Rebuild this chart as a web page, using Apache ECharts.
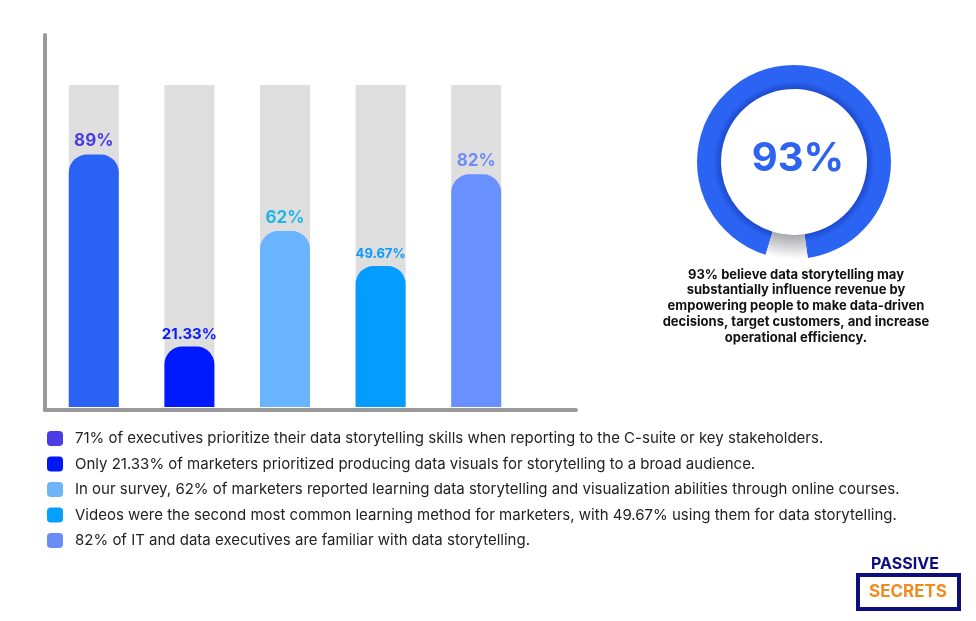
<!DOCTYPE html>
<html>
<head>
<meta charset="utf-8">
<title>Data storytelling</title>
<script src="https://cdn.jsdelivr.net/npm/echarts@6/dist/echarts.min.js"></script>
<style>
  html, body { margin: 0; padding: 0; background: #ffffff; }
  #chart { width: 976px; height: 621px; }
</style>
</head>
<body>
<div id="chart"></div>
<script>
// values
const categories = ['Executives', 'Data visuals', 'Online courses', 'Videos', 'IT executives'];
const values = [89, 21.33, 62, 49.67, 82];
const valueLabels = ['89%', '21.33%', '62%', '49.67%', '82%'];
const legendTexts = [
  '71% of executives prioritize their data storytelling skills when reporting to the C-suite or key stakeholders.',
  'Only 21.33% of marketers prioritized producing data visuals for storytelling to a broad audience.',
  'In our survey, 62% of marketers reported learning data storytelling and visualization abilities through online courses.',
  'Videos were the second most common learning method for marketers, with 49.67% using them for data storytelling.',
  '82% of IT and data executives are familiar with data storytelling.'
];
const donutValues = [93, 7];
const donutLabel = '93%';
const donutCaption = '93% believe data storytelling may\nsubstantially influence revenue by\nempowering people to make data-driven\ndecisions, target customers, and increase\noperational efficiency.';

// colours
const barColors = ['#2962f5', '#0019ff', '#69b4ff', '#039cff', '#6990ff'];
const markerColors = ['#4b3ee6', '#0019f5', '#6fb4f7', '#03a0ff', '#6a8cf7'];
const labelColors = ['#4a3be0', '#0a1cff', '#1fb6e6', '#0a9bff', '#6e8cf5'];
const labelSizes = [17, 15, 17, 13, 17];

const font = 'Inter, "Noto Sans", sans-serif';
const chart = echarts.init(document.getElementById('chart'));

// one series per bar so each gets its own legend row
let barSeries = values.map(function (v, i) {
  return {
    name: legendTexts[i],
    type: 'bar',
    xAxisIndex: 0,
    yAxisIndex: 0,
    barWidth: 50,
    barGap: '-100%',
    showBackground: i === 0,
    backgroundStyle: { color: '#dedede' },
    itemStyle: { color: barColors[i], borderRadius: [18, 18, 0, 0] },
    label: {
      show: true,
      position: 'top',
      distance: 5,
      formatter: valueLabels[i],
      color: labelColors[i],
      fontSize: labelSizes[i],
      fontWeight: 'bold',
      fontFamily: font
    },
    data: values.map(function (x, j) { return j === i ? x : '-'; })
  };
});

let option = {
  animation: false,
  backgroundColor: '#ffffff',
  grid: [
    { left: 46, right: 452, top: 85, bottom: 214 },   // bars
    { left: 45, right: 400, top: 35, bottom: 211 }    // axis lines
  ],
  xAxis: [
    { type: 'category', gridIndex: 0, data: categories, show: false },
    {
      type: 'value', gridIndex: 1, min: 0, max: 1,
      axisLine: { show: true, onZero: false, lineStyle: { color: '#9a9a9a', width: 4 } },
      axisTick: { show: false }, axisLabel: { show: false }, splitLine: { show: false }
    }
  ],
  yAxis: [
    { type: 'value', gridIndex: 0, min: 0, max: 113.5, show: false },
    {
      type: 'value', gridIndex: 1, min: 0, max: 1,
      axisLine: { show: true, onZero: false, lineStyle: { color: '#9a9a9a', width: 4 } },
      axisTick: { show: false }, axisLabel: { show: false }, splitLine: { show: false }
    }
  ],
  legend: {
    orient: 'vertical',
    left: 47,
    top: 431,
    padding: 0,
    itemWidth: 16,
    itemHeight: 15,
    itemGap: 10.5,
    icon: 'roundRect',
    selectedMode: false,
    textStyle: { fontSize: 15, color: '#222222', fontFamily: font, padding: [0, 0, 0, 7] },
    data: legendTexts.map(function (t, i) {
      return { name: t, itemStyle: { color: markerColors[i] } };
    })
  },
  series: barSeries.concat([
    {
      type: 'pie',
      silent: true,
      center: [794, 162],
      radius: [73, 97],
      startAngle: 253,
      clockwise: true,
      labelLine: { show: false },
      data: [
        {
          value: donutValues[0],
          name: donutLabel,
          itemStyle: {
            color: {
              type: 'radial', x: 794, y: 162, r: 97, global: true,
              colorStops: [
                { offset: 0, color: '#1c49cc' },
                { offset: 0.75, color: '#1c49cc' },
                { offset: 0.83, color: '#2b63f2' },
                { offset: 1, color: '#2b63f2' }
              ]
            }
          },
          label: {
            show: true,
            position: 'center',
            formatter: donutLabel,
            color: '#2d63f0',
            fontSize: 40,
            fontWeight: 'bold',
            fontFamily: font,
            offset: [4, -3]
          }
        },
        {
          value: donutValues[1],
          name: 'rest',
          itemStyle: {
            color: {
              type: 'radial', x: 794, y: 162, r: 97, global: true,
              colorStops: [
                { offset: 0, color: '#a8a8ae' },
                { offset: 0.75, color: '#a8a8ae' },
                { offset: 1, color: '#ffffff' }
              ]
            }
          },
          label: { show: false }
        }
      ]
    }
  ]),
  graphic: [
    {
      type: 'text',
      x: 796,
      y: 267,
      style: {
        text: donutCaption,
        align: 'center',
        verticalAlign: 'top',
        font: 'bold 13px ' + font,
        lineHeight: 15.7,
        fill: '#111111'
      }
    },
    // Passive Secrets logo
    {
      type: 'text',
      x: 905,
      y: 564,
      style: {
        text: 'PASSIVE',
        align: 'center',
        verticalAlign: 'middle',
        font: 'bold 16px ' + font,
        fill: '#0d0d7d'
      }
    },
    {
      type: 'rect',
      shape: { x: 858, y: 575, width: 101, height: 34 },
      style: { fill: '#ffffff', stroke: '#0d0d7d', lineWidth: 4 }
    },
    {
      type: 'text',
      x: 908,
      y: 592,
      style: {
        text: 'SECRETS',
        align: 'center',
        verticalAlign: 'middle',
        font: 'bold 17px ' + font,
        fill: '#f08a1c'
      }
    }
  ]
};

chart.setOption(option);
</script>
</body>
</html>
